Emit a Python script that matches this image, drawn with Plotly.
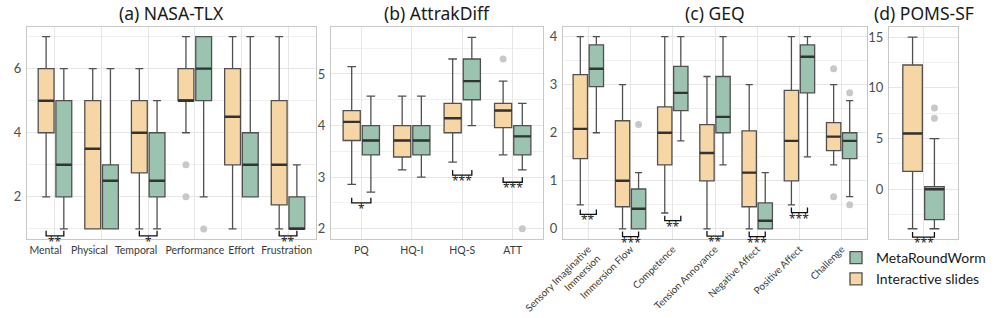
import plotly.graph_objects as go
import numpy as np

NB = "\u00a0"

# ---------------- data ----------------
# five-number summaries: (lower whisker, q1, median, q3, upper whisker)
nasa_cats = ["Mental", "Physical", "Temporal", "Performance", "Effort", "Frustration"]
nasa_slides = [(2, 4, 5, 6, 7), (1, 1, 3.5, 5, 6), (1, 2.75, 4, 5, 6),
               (4, 5, 5, 6, 7), (1, 3, 4.5, 6, 7), (1, 1.75, 3, 5, 7)]
nasa_worm = [(1, 2, 3, 5, 6), (1, 1, 2.5, 3, 6), (1, 2, 2.5, 4, 5),
             (2, 5, 6, 7, 7), (2, 2, 3, 4, 7), (1, 1, 1, 2, 3)]
nasa_out_slides = [[], [], [], [3, 2], [], []]
nasa_out_worm = [[], [], [], [1], [], []]
nasa_sig = ["**", "", "*", "", "", "**"]
nasa_sig_y = [0.78, None, 0.78, None, None, 0.78]

attrak_cats = ["PQ", "HQ-I", "HQ-S", "ATT"]
attrak_slides = [(2.86, 3.71, 4.07, 4.29, 5.14), (3.14, 3.39, 3.71, 4.0, 4.57),
                 (3.29, 3.86, 4.14, 4.43, 5.29), (3.43, 3.96, 4.29, 4.43, 4.86)]
attrak_worm = [(2.71, 3.43, 3.71, 4.0, 4.57), (3.0, 3.43, 3.71, 4.0, 4.57),
               (4.0, 4.5, 4.86, 5.29, 5.71), (3.14, 3.43, 3.79, 4.0, 4.43)]
attrak_out_slides = [[], [], [], [5.29]]
attrak_out_worm = [[], [], [], [2.0]]
attrak_sig = ["*", "", "***", "***"]
attrak_sig_y = [2.50, None, 3.04, 2.90]

geq_cats = ["Sensory Imaginative<br>Immersion", "Immersion Flow", "Competence",
            "Tension Annoyance", "Negative Affect", "Positive Affect", "Challenge"]
geq_slides = [(0.5, 1.46, 2.08, 3.21, 4.0), (0, 0.46, 1.0, 2.25, 3.0),
              (0.33, 1.33, 2.0, 2.54, 4.0), (0, 1.0, 1.58, 2.17, 3.17),
              (0, 0.46, 1.17, 2.04, 3.0), (0.5, 1.0, 1.83, 2.88, 4.0),
              (1.33, 1.63, 1.92, 2.21, 3.0)]
geq_worm = [(2.0, 2.96, 3.33, 3.83, 4.0), (0, 0, 0.42, 0.83, 1.17),
            (1.83, 2.46, 2.83, 3.38, 4.0), (1.33, 2.0, 2.33, 3.17, 4.0),
            (0, 0, 0.17, 0.54, 1.17), (1.5, 2.83, 3.58, 3.83, 4.0),
            (0.67, 1.46, 1.83, 2.0, 2.67)]
geq_out_slides = [[], [], [], [], [], [], [3.33, 0.67]]
geq_out_worm = [[], [2.17], [], [], [], [], [2.83, 0.5]]
geq_sig = ["**", "***", "**", "**", "***", "***", ""]
geq_sig_y = [0.30, -0.16, 0.17, -0.15, -0.16, 0.34, None]

poms_cats = [""]
poms_slides = [(-3.9, 1.77, 5.5, 12.25, 15)]
poms_worm = [(-3.9, -3.0, 0.0, 0.25, 5)]
poms_out_slides = [[]]
poms_out_worm = [[8, 7]]
poms_sig = ["***"]
poms_sig_y = [-4.72]

titles = ["(a) NASA-TLX", "(b) AttrakDiff", "(c) GEQ", "(d) POMS-SF"]
group_names = ["MetaRoundWorm", "Interactive slides"]

# ---------------- style ----------------
W, H = 996, 318


def px_x(x):
    return x / W


def px_y(y):
    return 1 - y / H


ORANGE = "rgb(245,214,164)"
GREEN = "rgb(155,195,175)"
LINE = "#505050"
FONT = "Lato"
x_dom_px = [(27, 316), (331, 543), (563, 867), (889, 958)]
y_dom = [px_y(238.5), px_y(27)]
y_ranges = [[0.7, 7.3], [1.81, 5.91], [-0.2, 4.2], [-4.86, 16]]
y_dticks = [2, 1, 1, 5]
DODGE = 0.19
BW = 0.34
# label padding (trailing no-break spaces) so that crowded labels sit as in the original
label_pad = [[7, 9, 9, 0, 0, 1], None, None, None]

panels = [
    (nasa_cats, nasa_slides, nasa_worm, nasa_out_slides, nasa_out_worm, nasa_sig, nasa_sig_y),
    (attrak_cats, attrak_slides, attrak_worm, attrak_out_slides, attrak_out_worm, attrak_sig, attrak_sig_y),
    (geq_cats, geq_slides, geq_worm, geq_out_slides, geq_out_worm, geq_sig, geq_sig_y),
    (poms_cats, poms_slides, poms_worm, poms_out_slides, poms_out_worm, poms_sig, poms_sig_y),
]

fig = go.Figure()
annotations = []
layout_axes = {}

for i, (cats, sl, wm, osl, owm, sig, sigy) in enumerate(panels):
    k = i + 1
    xa = "x" if k == 1 else f"x{k}"
    ya = "y" if k == 1 else f"y{k}"
    n = len(cats)
    pos = np.arange(1, n + 1)
    yr = y_ranges[i]
    span = yr[1] - yr[0]

    for g, (data, outs, color, dx, name, rank) in enumerate([
        (sl, osl, ORANGE, -DODGE, group_names[1], 2),
        (wm, owm, GREEN, DODGE, group_names[0], 1),
    ]):
        arr = np.array(data, dtype=float)
        xp = pos + dx
        fig.add_trace(go.Box(
            x=xp, lowerfence=arr[:, 0], q1=arr[:, 1], median=arr[:, 2],
            q3=arr[:, 3], upperfence=arr[:, 4], width=BW,
            fillcolor=color, line=dict(color=LINE, width=1.3),
            name=name, legendgroup=name, legendrank=rank,
            showlegend=(i == 0), xaxis=xa, yaxis=ya, hoverinfo="skip",
        ))
        # thicker median lines
        mx, my = [], []
        for p, m in zip(xp, arr[:, 2]):
            mx += [p - BW / 2, p + BW / 2, None]
            my += [m, m, None]
        fig.add_trace(go.Scatter(x=mx, y=my, mode="lines",
                                 line=dict(color="#333333", width=2.4),
                                 showlegend=False, xaxis=xa, yaxis=ya, hoverinfo="skip"))
        # outliers
        ox, oy = [], []
        for p, o in zip(xp, outs):
            for v in o:
                ox.append(p)
                oy.append(v)
        if ox:
            fig.add_trace(go.Scatter(x=ox, y=oy, mode="markers",
                                     marker=dict(color="#C8C8C8", size=7),
                                     showlegend=False, xaxis=xa, yaxis=ya, hoverinfo="skip"))

    # significance brackets
    tip = 0.024 * span
    bx, by = [], []
    for p, s, yb in zip(pos, sig, sigy):
        if not s:
            continue
        x1, x2 = p - DODGE, p + DODGE
        bx += [x1, x1, x2, x2, None]
        by += [yb + tip, yb, yb, yb + tip, None]
        annotations.append(dict(x=p, y=yb, xref=xa, yref=ya, text=s, showarrow=False,
                                yanchor="top", xanchor="center", yshift=4, borderpad=0,
                                font=dict(family="Noto Sans", size=12, color="#222222")))
    if bx:
        fig.add_trace(go.Scatter(x=bx, y=by, mode="lines", line=dict(color="#111111", width=1.3),
                                 showlegend=False, xaxis=xa, yaxis=ya, hoverinfo="skip",
                                 cliponaxis=False))

    ticktext = list(cats)
    if label_pad[i]:
        ticktext = [c + NB * pd for c, pd in zip(cats, label_pad[i])]

    x0px, x1px = x_dom_px[i]
    xkey = "xaxis" if k == 1 else f"xaxis{k}"
    ykey = "yaxis" if k == 1 else f"yaxis{k}"
    layout_axes[xkey] = dict(
        domain=[px_x(x0px), px_x(x1px)], anchor=ya, range=[0.4, n + 0.6],
        tickvals=list(pos), ticktext=ticktext, tickangle=(-45 if i == 2 else 0),
        showgrid=True, gridcolor="#E6E6E6", gridwidth=1, zeroline=False,
        showline=True, mirror=True, linecolor="#C8C8C8", linewidth=1,
        ticks=("" if i == 2 else "outside"), ticklen=2, tickcolor="rgba(0,0,0,0)",
        tickfont=dict(family=FONT, size=(10 if i == 2 else 10.5), color="#3a3a3a"),
        automargin=False, fixedrange=True,
    )
    layout_axes[ykey] = dict(
        domain=y_dom, anchor=xa, range=yr, tick0=0, dtick=y_dticks[i],
        showgrid=True, gridcolor="#E6E6E6", gridwidth=1, zeroline=False,
        minor=dict(dtick=y_dticks[i] / 2, tick0=0, showgrid=True, gridcolor="#F0F0F0", gridwidth=1),
        showline=True, mirror=True, linecolor="#C8C8C8", linewidth=1,
        ticks="outside", ticklen=2, tickcolor="rgba(0,0,0,0)",
        tickfont=dict(family=FONT, size=13, color="#4d4d4d"),
        automargin=False, fixedrange=True,
    )
    annotations.append(dict(x=px_x((x0px + x1px) / 2), y=px_y(13), xref="paper", yref="paper",
                            text=titles[i], showarrow=False, xanchor="center", yanchor="middle",
                            borderpad=0,
                            font=dict(family="Noto Sans", size=17.5, color="#1a1a1a")))

fig.update_layout(
    width=W, height=H, autosize=False,
    margin=dict(l=0, r=0, t=0, b=0),
    paper_bgcolor="white", plot_bgcolor="white",
    showlegend=True, hovermode=False,
    legend=dict(x=px_x(836), y=px_y(242), xanchor="left", yanchor="top",
                font=dict(family=FONT, size=14, color="#1a1a1a"),
                bgcolor="rgba(0,0,0,0)", tracegroupgap=0),
    annotations=annotations,
    **layout_axes,
)

# drop the browser's default 8px page margin so the figure fills the window exactly
fig.write_html("out.html", config={"displayModeBar": False, "staticPlot": False},
               post_script="document.body.style.margin='0px';")
